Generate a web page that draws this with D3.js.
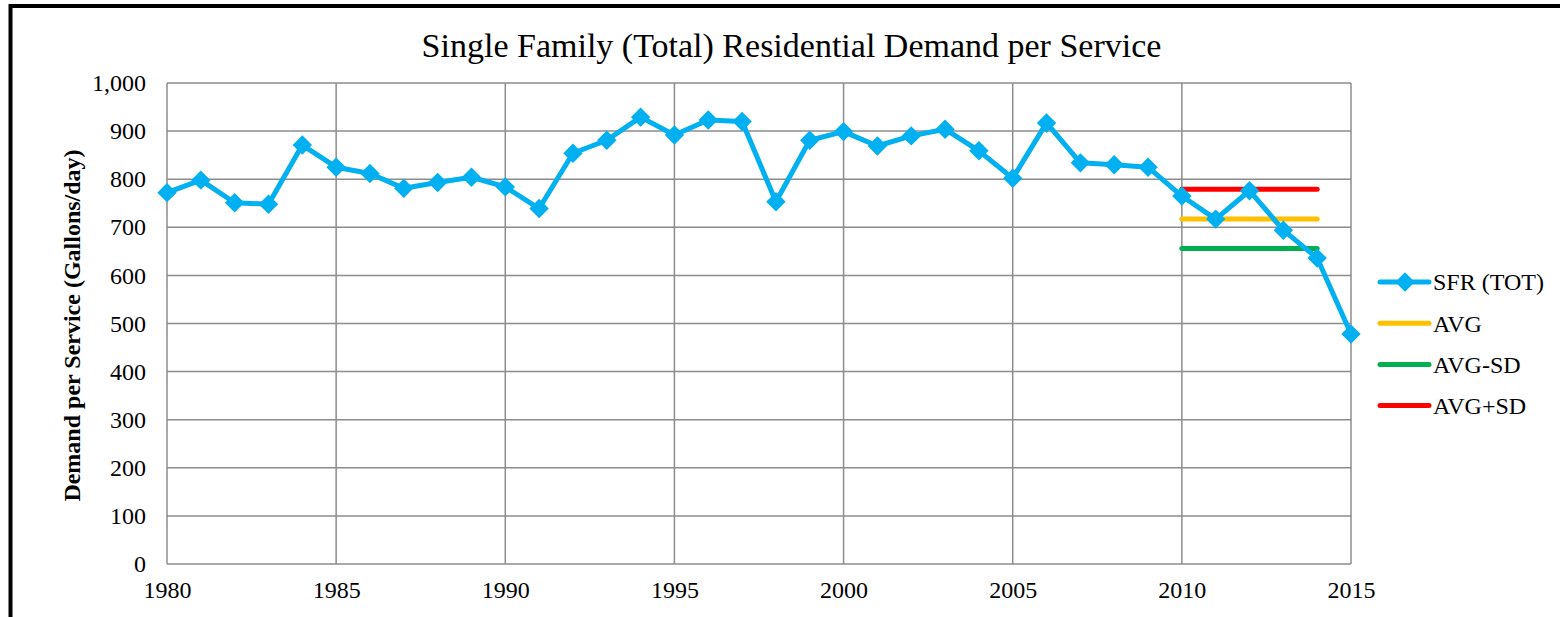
<!DOCTYPE html>
<html>
<head>
<meta charset="utf-8">
<script src="https://cdn.jsdelivr.net/npm/d3@7"></script>
<style>
  body { margin: 0; background: #fff; }
  svg text { font-family: "Liberation Serif", "Times New Roman", serif; fill: #000; }
</style>
</head>
<body>
<div id="chart"></div>
<script>
var years = d3.range(1980, 2016);
var sfrTot = [772, 798, 751, 748, 871, 825, 812, 781, 793, 804,
              784, 739, 854, 881, 929, 892, 923, 920, 753, 881,
              899, 869, 890, 904, 859, 802, 917, 834, 830, 825,
              765, 717, 776, 694, 636, 478];
var statYears = [2010, 2014];
var avgVal = 717;
var avgMinusSd = 656;
var avgPlusSd = 779;
var yTicks = [0, 100, 200, 300, 400, 500, 600, 700, 800, 900, 1000];
var xTicks = [1980, 1985, 1990, 1995, 2000, 2005, 2010, 2015];

var W = 1560, H = 617;
var margin = {left: 167, top: 83, right: 1560 - 1351, bottom: 617 - 564};
var width = W - margin.left - margin.right;
var height = H - margin.top - margin.bottom;

var svg = d3.select("#chart").append("svg")
    .attr("width", W)
    .attr("height", H);

// outer frame
svg.append("rect")
    .attr("x", 10.5).attr("y", 6)
    .attr("width", W).attr("height", H + 10)
    .attr("fill", "none")
    .attr("stroke", "#000")
    .attr("stroke-width", 4);

var g = svg.append("g").attr("transform", "translate(" + margin.left + "," + margin.top + ")");

var x = d3.scaleLinear().domain([1980, 2015]).range([0, width]);
var y = d3.scaleLinear().domain([0, 1000]).range([height, 0]);

// gridlines
g.append("g").selectAll("line")
    .data(yTicks)
    .join("line")
    .attr("x1", 0).attr("x2", width)
    .attr("y1", d => y(d)).attr("y2", d => y(d))
    .attr("stroke", "#8c8c8c").attr("stroke-width", 1.5);

g.append("g").selectAll("line")
    .data(xTicks)
    .join("line")
    .attr("x1", d => x(d)).attr("x2", d => x(d))
    .attr("y1", 0).attr("y2", height)
    .attr("stroke", "#8c8c8c").attr("stroke-width", 1.5);

// axes (labels only)
var yAxis = d3.axisLeft(y).tickValues(yTicks).tickSize(0).tickPadding(21)
    .tickFormat(d3.format(","));
g.append("g").call(yAxis)
    .call(s => s.select(".domain").remove())
    .selectAll("text").style("font-size", "24px");

var xAxis = d3.axisBottom(x).tickValues(xTicks).tickSize(0).tickPadding(17)
    .tickFormat(d3.format("d"));
g.append("g").attr("transform", "translate(0," + height + ")").call(xAxis)
    .call(s => s.select(".domain").remove())
    .selectAll("text").style("font-size", "24px");

// stat lines
var statLines = [
    {key: "AVG", value: avgVal, color: "#ffc000"},
    {key: "AVG-SD", value: avgMinusSd, color: "#00b050"},
    {key: "AVG+SD", value: avgPlusSd, color: "#ff0000"}
];
g.append("g").selectAll("line")
    .data(statLines)
    .join("line")
    .attr("x1", x(statYears[0])).attr("x2", x(statYears[1]))
    .attr("y1", d => y(d.value)).attr("y2", d => y(d.value))
    .attr("stroke", d => d.color)
    .attr("stroke-width", 5)
    .attr("stroke-linecap", "round");

// main series
var pts = years.map((yr, i) => ({year: yr, value: sfrTot[i]}));
var line = d3.line().x(d => x(d.year)).y(d => y(d.value));
g.append("path")
    .datum(pts)
    .attr("d", line)
    .attr("fill", "none")
    .attr("stroke", "#00b0f0")
    .attr("stroke-width", 5)
    .attr("stroke-linejoin", "round");

var diamond = d3.symbol().type(d3.symbolDiamond2).size(240);
g.append("g").selectAll("path")
    .data(pts)
    .join("path")
    .attr("transform", d => "translate(" + x(d.year) + "," + y(d.value) + ")")
    .attr("d", diamond)
    .attr("fill", "#00b0f0");

// title
svg.append("text")
    .attr("x", (418 + 1165) / 2)
    .attr("y", 57)
    .attr("text-anchor", "middle")
    .style("font-size", "34px")
    .text("Single Family (Total) Residential Demand per Service");

// y label
svg.append("text")
    .attr("transform", "translate(80," + (margin.top + height / 2 + 2) + ") rotate(-90)")
    .attr("text-anchor", "middle")
    .style("font-size", "24px")
    .style("font-weight", "bold")
    .text("Demand per Service (Gallons/day)");

// legend
var legendKeys = [{key: "SFR (TOT)", color: "#00b0f0", marker: true}].concat(statLines);
var legend = svg.append("g").selectAll("g")
    .data(legendKeys)
    .join("g")
    .attr("transform", (d, i) => "translate(1380," + (282 + i * 41.2) + ")");

legend.append("line")
    .attr("x1", 0).attr("x2", 49)
    .attr("stroke", d => d.color)
    .attr("stroke-width", 5)
    .attr("stroke-linecap", "round");

legend.filter(d => d.marker).append("path")
    .attr("transform", "translate(25,0)")
    .attr("d", diamond)
    .attr("fill", d => d.color);

legend.append("text")
    .attr("x", 53)
    .attr("dy", "0.35em")
    .style("font-size", "24px")
    .text(d => d.key);
</script>
</body>
</html>
